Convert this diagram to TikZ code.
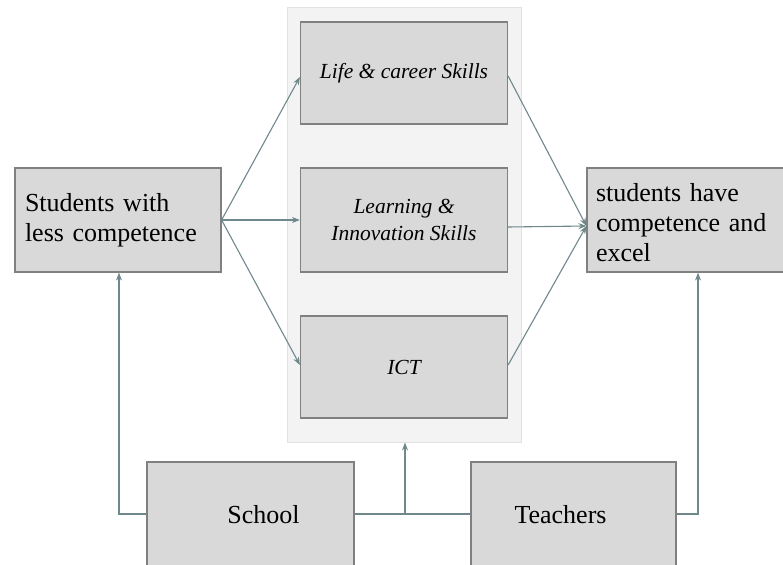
\documentclass[tikz,border=0pt]{standalone}
\usepackage{fontspec}
\setmainfont{Liberation Serif}
\usetikzlibrary{arrows.meta}
\definecolor{boxfill}{HTML}{D9D9D9}
\definecolor{boxline}{HTML}{808080}
\definecolor{panelfill}{HTML}{F3F3F3}
\definecolor{panelline}{HTML}{E2E2E2}
\definecolor{arrowcol}{HTML}{6F888C}
\tikzset{
  box/.style={draw=boxline, line width=1.2pt, fill=boxfill, inner sep=0pt},
  panel/.style={draw=panelline, line width=1pt, fill=panelfill, inner sep=0pt},
  conn/.style={draw=arrowcol, line width=1.1pt},
  arr/.style={conn, -{Stealth[length=8pt,width=6pt]}},
  body/.style={font=\fontsize{26}{30}\selectfont},
  skill/.style={font=\fontsize{21.5}{27}\selectfont\itshape}
}
\begin{document}
\begin{tikzpicture}[x=1pt,y=-1pt]
\useasboundingbox (0,0) rectangle (783,564);
\node[panel, minimum width=234pt, minimum height=434pt] (panel) at (404,225) {};
\node[box, minimum width=207pt, minimum height=102pt, skill] (life) at (404,73) {Life \& career Skills};
\node[box, minimum width=207pt, minimum height=104pt, skill, align=center] (learn) at (404,220) {Learning \&\\Innovation Skills};
\node[box, minimum width=207pt, minimum height=102pt, skill] (ict) at (404,367) {ICT};
\node[box, minimum width=206pt, minimum height=104pt, body, text width=186pt, align=left] (stud) at (118,220) {Students with\\less competence};
\node[box, minimum width=210pt, minimum height=104pt, label={[body, text width=192pt, align=left, yshift=-3pt]center:students have\\competence and\\excel}] (res) at (692,220) {};
\node[box, minimum width=207pt, minimum height=104pt, label={[body, xshift=13pt, yshift=-1pt]center:School}] (school) at (250.5,514) {};
\node[box, minimum width=205pt, minimum height=104pt, label={[body, xshift=-13pt, yshift=-1pt]center:Teachers}] (teach) at (573.5,514) {};
\coordinate (rin) at ([yshift=-6pt]res.west);
\coordinate (lin) at ([yshift=-4pt]life.west);
\coordinate (iin) at ([yshift=2pt]ict.west);
\coordinate (lout) at ([yshift=-3pt]life.east);
\coordinate (mout) at ([yshift=-7pt]learn.east);
\coordinate (iout) at ([yshift=2pt]ict.east);
\coordinate (sl) at (119,514);
\coordinate (sm) at (405,514);
\coordinate (tr) at (698,514);
\draw[arr] (stud.east) -- (lin);
\draw[arr] (stud.east) -- (learn.west);
\draw[arr] (stud.east) -- (iin);
\draw[arr] (lout) -- (rin);
\draw[arr] (mout) -- (rin);
\draw[arr] (iout) -- (rin);
\draw[conn] (school.east) -- (teach.west);
\draw[arr] (school.west) -- (sl) -- (sl |- stud.south);
\draw[arr] (sm) -- (sm |- panel.south);
\draw[arr] (teach.east) -- (tr) -- (tr |- res.south);
\end{tikzpicture}
\end{document}
